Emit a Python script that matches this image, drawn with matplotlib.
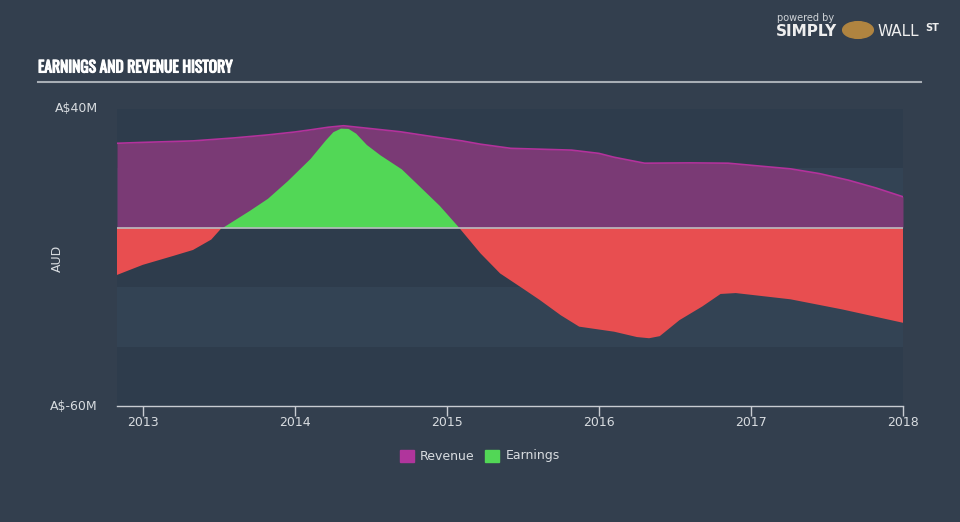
import matplotlib.pyplot as plt
import matplotlib.patheffects as pe
import numpy as np

# values in A$ millions, x in decimal years
rev_x = [2012.83, 2013.0, 2013.33, 2013.6, 2013.82, 2014.0, 2014.1, 2014.22, 2014.32,
         2014.45, 2014.69, 2014.91, 2015.1, 2015.22, 2015.42, 2015.82, 2016.0, 2016.1,
         2016.3, 2016.6, 2016.85, 2017.0, 2017.26, 2017.45, 2017.64, 2017.82, 2018.0]
rev_y = [28.4, 28.7, 29.2, 30.2, 31.2, 32.2, 32.9, 33.8, 34.3,
         33.6, 32.3, 30.6, 29.2, 28.1, 26.7, 26.1, 25.0, 23.7,
         21.7, 21.8, 21.7, 21.0, 19.8, 18.2, 16.0, 13.4, 10.4]

earn_x = [2012.83, 2013.0, 2013.2, 2013.33, 2013.45, 2013.52, 2013.7, 2013.82, 2013.95,
          2014.1, 2014.2, 2014.25, 2014.3, 2014.35, 2014.4, 2014.47, 2014.56, 2014.7,
          2014.8, 2014.95, 2015.08, 2015.22, 2015.35, 2015.5, 2015.61, 2015.75, 2015.87,
          2016.1, 2016.25, 2016.33, 2016.4, 2016.53, 2016.68, 2016.8, 2016.9, 2017.26,
          2017.6, 2018.0]
earn_y = [-15.9, -12.5, -9.5, -7.5, -4.0, 0.0, 5.8, 9.9, 15.8,
          23.3, 29.5, 32.3, 33.5, 33.4, 31.8, 28.0, 24.5, 19.8,
          14.9, 7.5, 0.0, -8.6, -15.4, -20.5, -24.3, -29.5, -33.3,
          -35.0, -36.8, -37.2, -36.5, -31.1, -26.5, -22.3, -22.0, -24.1,
          -27.5, -32.0]

x_ticks = [2013, 2014, 2015, 2016, 2017, 2018]
y_ticks = [40, -60]
y_tick_labels = ['A$40M', 'A$-60M']

bg = '#333f4e'
fig = plt.figure(figsize=(9.6, 5.22), dpi=100, facecolor=bg)
ax = fig.add_axes([117/960, 1-406/522, (903-117)/960, (406-108.8)/522])
ax.set_facecolor(bg)

# alternating background bands
band_cols = ['#2e3c4c', '#334354', '#2e3c4c', '#334354', '#2e3c4c']
edges = [40, 20, 0, -20, -40, -60]
for i in range(5):
    ax.axhspan(edges[i+1], edges[i], color=band_cols[i], lw=0, zorder=0)

rx = np.array(rev_x)
ry = np.array(rev_y)
ex = np.array(earn_x)
ey = np.array(earn_y)

ax.fill_between(rx, 0, ry, color='#7a3a75', lw=0, zorder=1)
ax.plot(rx, ry, color='#b3329c', lw=1.2, zorder=2)
ax.fill_between(ex, 0, ey, where=ey >= 0, interpolate=True, color='#52d756', lw=0, zorder=3)
ax.fill_between(ex, 0, ey, where=ey <= 0, interpolate=True, color='#e84e50', lw=0, zorder=3)
ax.axhline(0, color='#b8bcc0', lw=1.2, zorder=4)

ax.set_xlim(2012.83, 2018.0)
ax.set_ylim(-60, 40)
for s in ['top', 'right', 'left']:
    ax.spines[s].set_visible(False)
ax.spines['bottom'].set_color('#c8ccd2')
ax.spines['bottom'].set_linewidth(1)
ax.set_xticks(x_ticks)
ax.set_xticklabels([str(t) for t in x_ticks])
ax.tick_params(axis='x', colors='#c8ccd2', labelcolor='#d8dce0', length=7, width=1,
               labelsize=9, pad=0)
ax.set_yticks(y_ticks)
ax.set_yticklabels(y_tick_labels)
ax.tick_params(axis='y', length=0, labelcolor='#d8dce0', labelsize=9, pad=14)
for lab in ax.get_yticklabels():
    lab.set_verticalalignment('center')

fig.text(57/960, 1-258/522, 'AUD', rotation=90, color='#d8dce0', fontsize=9,
         ha='center', va='center')

# title and underline
fig.text(38/960, 1-68/522, 'EARNINGS AND REVENUE HISTORY', color='white', fontsize=11.2,
         family=['Oswald', 'Fjalla One', 'Roboto Condensed', 'Liberation Sans Narrow',
                 'DejaVu Sans'],
         ha='left', va='center',
         path_effects=[pe.withStroke(linewidth=0.8, foreground='white')])
fig.add_artist(plt.Line2D([38/960, 921/960], [1-82/522, 1-82/522], color='#a8aeb5',
                          lw=1.5))

# logo text
fig.text(777/960, 1-18/522, 'powered by', color='#d0d4d8', fontsize=7, ha='left', va='center')
fig.text(776/960, 1-31/522, 'SIMPLY', color='#eeeeee', fontsize=11, fontweight='bold',
         ha='left', va='center')
fig.add_artist(plt.Circle((858/960, 1-30/522), 0.016, transform=fig.transFigure,
                          color='#b08440'))
fig.text(877/960, 1-31/522, 'WALL', color='#eeeeee', fontsize=11, ha='left', va='center')
fig.text(925/960, 1-28/522, 'ST', color='#eeeeee', fontsize=7, fontweight='bold',
         ha='left', va='center')

# legend
fig.add_artist(plt.Rectangle((400/960, 1-462/522), 14/960, 12/522, transform=fig.transFigure,
                             color='#b0359c'))
fig.text(420/960, 1-456/522, 'Revenue', color='#d8dce0', fontsize=9, ha='left', va='center')
fig.add_artist(plt.Rectangle((485/960, 1-462/522), 14/960, 12/522, transform=fig.transFigure,
                             color='#52d756'))
fig.text(506/960, 1-456/522, 'Earnings', color='#d8dce0', fontsize=9, ha='left', va='center')

fig.savefig('out.png', dpi=100, facecolor=bg)
